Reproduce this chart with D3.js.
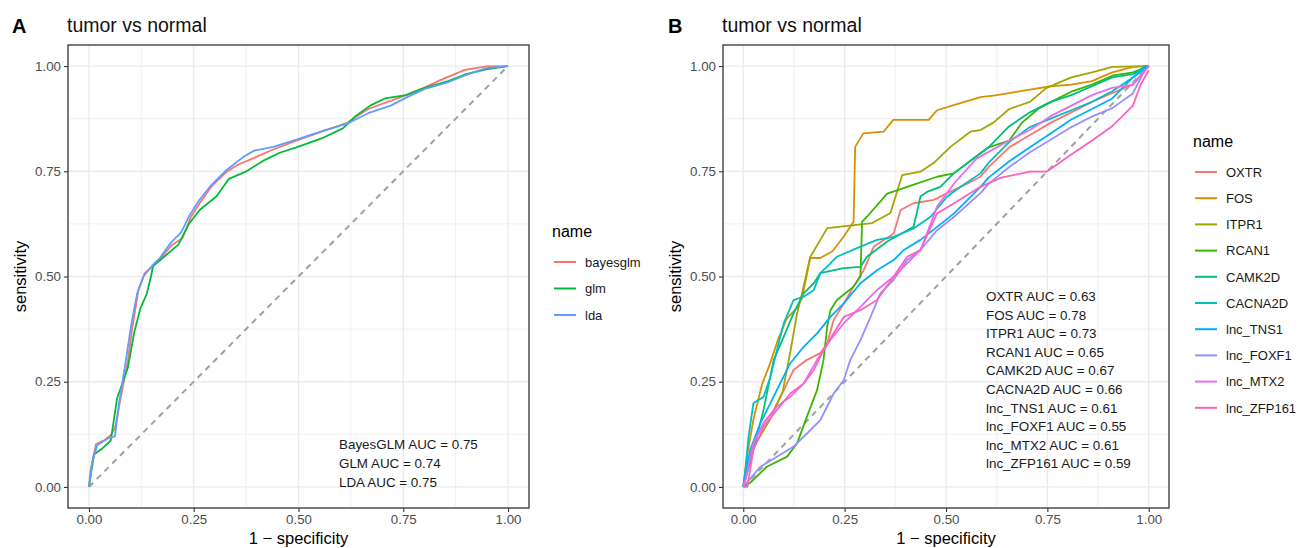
<!DOCTYPE html>
<html>
<head>
<meta charset="utf-8">
<script src="https://cdn.jsdelivr.net/npm/d3@7"></script>
<style>
  body { margin: 0; background: #fff; }
  svg text { font-family: "Liberation Sans", Arial, sans-serif; }
</style>
</head>
<body>
<div id="chart"></div>
<script>
// ---- data: [1 - specificity, sensitivity] ----
var modelNames = ["bayesglm", "glm", "lda"];
var modelColors = ["#F8766D", "#00BA38", "#619CFF"];
var modelAuc = ["BayesGLM AUC = 0.75", "GLM AUC = 0.74", "LDA AUC = 0.75"];

var bayesglmRoc = [[0,0],[0.004,0.04],[0.017,0.102],[0.035,0.11],[0.052,0.123],[0.062,0.14],[0.077,0.218],[0.093,0.30],[0.103,0.376],[0.118,0.467],[0.133,0.508],[0.153,0.525],[0.173,0.546],[0.198,0.575],[0.223,0.591],[0.243,0.641],[0.264,0.674],[0.294,0.716],[0.329,0.749],[0.354,0.765],[0.394,0.782],[0.435,0.80],[0.495,0.823],[0.555,0.844],[0.616,0.865],[0.666,0.898],[0.736,0.923],[0.797,0.947],[0.837,0.966],[0.897,0.991],[0.948,0.999],[1,1]];
var glmRoc = [[0,0],[0.012,0.077],[0.03,0.09],[0.052,0.11],[0.067,0.21],[0.093,0.284],[0.108,0.367],[0.123,0.425],[0.138,0.459],[0.148,0.50],[0.153,0.525],[0.183,0.55],[0.213,0.575],[0.238,0.624],[0.264,0.658],[0.304,0.69],[0.334,0.732],[0.374,0.749],[0.414,0.774],[0.455,0.794],[0.495,0.807],[0.555,0.828],[0.606,0.852],[0.636,0.881],[0.671,0.906],[0.706,0.923],[0.757,0.931],[0.797,0.947],[0.857,0.964],[0.897,0.98],[0.948,0.992],[1,1]];
var ldaRoc = [[0,0],[0.008,0.06],[0.02,0.10],[0.045,0.115],[0.062,0.12],[0.072,0.2],[0.088,0.30],[0.10,0.38],[0.115,0.46],[0.13,0.50],[0.15,0.525],[0.17,0.545],[0.195,0.58],[0.22,0.605],[0.24,0.645],[0.262,0.68],[0.29,0.715],[0.325,0.75],[0.35,0.77],[0.37,0.785],[0.394,0.799],[0.44,0.808],[0.495,0.825],[0.555,0.845],[0.616,0.863],[0.666,0.888],[0.72,0.906],[0.757,0.925],[0.80,0.945],[0.857,0.962],[0.897,0.978],[0.948,0.995],[1,1]];

var geneNames = ["OXTR", "FOS", "ITPR1", "RCAN1", "CAMK2D", "CACNA2D", "lnc_TNS1", "lnc_FOXF1", "lnc_MTX2", "lnc_ZFP161"];
var geneColors = ["#F8766D", "#D89000", "#A3A500", "#39B600", "#00BF7D", "#00BFC4", "#00B0F6", "#9590FF", "#E76BF3", "#FF62BC"];
var geneAuc = ["OXTR AUC = 0.63", "FOS AUC = 0.78", "ITPR1 AUC = 0.73", "RCAN1 AUC = 0.65", "CAMK2D AUC = 0.67", "CACNA2D AUC = 0.66", "lnc_TNS1 AUC = 0.61", "lnc_FOXF1 AUC = 0.55", "lnc_MTX2 AUC = 0.61", "lnc_ZFP161 AUC = 0.59"];

var oxtrRoc = [[0,0],[0.008,0.05],[0.025,0.104],[0.05,0.151],[0.075,0.183],[0.1,0.23],[0.124,0.278],[0.157,0.302],[0.19,0.318],[0.207,0.341],[0.223,0.397],[0.248,0.436],[0.272,0.476],[0.297,0.515],[0.322,0.571],[0.371,0.602],[0.388,0.658],[0.42,0.674],[0.47,0.682],[0.503,0.698],[0.553,0.721],[0.585,0.737],[0.605,0.76],[0.656,0.807],[0.707,0.836],[0.758,0.865],[0.809,0.89],[0.86,0.915],[0.91,0.936],[0.961,0.956],[1,1]];
var fosRoc = [[0,0],[0.01,0.077],[0.025,0.16],[0.046,0.243],[0.066,0.293],[0.086,0.351],[0.107,0.40],[0.132,0.425],[0.145,0.449],[0.165,0.544],[0.19,0.544],[0.22,0.56],[0.247,0.594],[0.272,0.63],[0.276,0.808],[0.296,0.84],[0.346,0.844],[0.37,0.872],[0.457,0.872],[0.478,0.895],[0.519,0.907],[0.585,0.926],[0.626,0.931],[0.707,0.944],[0.758,0.952],[0.809,0.956],[0.86,0.964],[0.91,0.985],[0.961,0.998],[1,1]];
var itpr1Roc = [[0,0],[0.025,0.094],[0.066,0.16],[0.097,0.226],[0.117,0.326],[0.132,0.409],[0.145,0.46],[0.165,0.546],[0.207,0.615],[0.318,0.627],[0.363,0.651],[0.392,0.741],[0.437,0.749],[0.47,0.77],[0.511,0.808],[0.56,0.844],[0.585,0.848],[0.616,0.865],[0.656,0.898],[0.707,0.915],[0.748,0.948],[0.809,0.973],[0.86,0.985],[0.91,0.998],[1,1]];
var rcan1Roc = [[0,0],[0.017,0.01],[0.058,0.048],[0.108,0.072],[0.133,0.104],[0.157,0.167],[0.182,0.23],[0.198,0.302],[0.207,0.381],[0.215,0.42],[0.231,0.444],[0.272,0.476],[0.289,0.50],[0.293,0.63],[0.305,0.642],[0.355,0.697],[0.404,0.713],[0.478,0.737],[0.519,0.745],[0.585,0.793],[0.605,0.807],[0.656,0.823],[0.687,0.865],[0.727,0.898],[0.768,0.919],[0.809,0.939],[0.86,0.956],[0.91,0.977],[0.961,0.985],[1,1]];
var camk2dRoc = [[0,0],[0.005,0.017],[0.025,0.088],[0.05,0.183],[0.075,0.302],[0.1,0.357],[0.124,0.413],[0.149,0.46],[0.174,0.484],[0.19,0.508],[0.247,0.52],[0.289,0.523],[0.305,0.547],[0.355,0.583],[0.42,0.618],[0.437,0.69],[0.453,0.701],[0.486,0.713],[0.519,0.745],[0.585,0.793],[0.605,0.807],[0.656,0.857],[0.707,0.89],[0.758,0.915],[0.809,0.931],[0.86,0.952],[0.91,0.973],[0.961,0.981],[1,1]];
var cacna2dRoc = [[0,0],[0.005,0.04],[0.013,0.119],[0.025,0.199],[0.05,0.214],[0.067,0.262],[0.083,0.325],[0.1,0.389],[0.124,0.444],[0.149,0.452],[0.174,0.468],[0.19,0.508],[0.215,0.531],[0.231,0.547],[0.289,0.571],[0.33,0.587],[0.371,0.594],[0.42,0.614],[0.462,0.642],[0.503,0.69],[0.536,0.713],[0.585,0.745],[0.605,0.77],[0.656,0.82],[0.707,0.855],[0.758,0.875],[0.809,0.895],[0.86,0.915],[0.91,0.94],[0.961,0.973],[1,1]];
var tns1Roc = [[0,0],[0.004,0.023],[0.017,0.088],[0.042,0.151],[0.067,0.199],[0.091,0.246],[0.116,0.294],[0.149,0.333],[0.182,0.365],[0.215,0.404],[0.248,0.436],[0.289,0.484],[0.33,0.515],[0.371,0.539],[0.396,0.563],[0.437,0.587],[0.478,0.618],[0.52,0.65],[0.585,0.713],[0.605,0.735],[0.656,0.774],[0.707,0.807],[0.758,0.84],[0.809,0.873],[0.86,0.898],[0.91,0.923],[0.961,0.973],[0.99,1],[1,1]];
var foxf1Roc = [[0,0],[0.042,0.048],[0.083,0.072],[0.124,0.096],[0.157,0.127],[0.19,0.159],[0.223,0.222],[0.248,0.254],[0.264,0.302],[0.289,0.349],[0.314,0.404],[0.338,0.46],[0.371,0.492],[0.404,0.539],[0.437,0.563],[0.478,0.61],[0.52,0.642],[0.585,0.698],[0.605,0.72],[0.656,0.76],[0.707,0.795],[0.758,0.825],[0.809,0.855],[0.86,0.88],[0.91,0.9],[0.961,0.935],[0.99,0.99],[1,1]];
var mtx2Roc = [[0,0],[0.005,0.015],[0.025,0.104],[0.05,0.151],[0.083,0.191],[0.116,0.214],[0.149,0.246],[0.182,0.302],[0.215,0.349],[0.248,0.389],[0.289,0.428],[0.33,0.468],[0.371,0.50],[0.404,0.531],[0.437,0.563],[0.453,0.602],[0.478,0.666],[0.52,0.721],[0.575,0.78],[0.656,0.823],[0.707,0.848],[0.758,0.881],[0.809,0.906],[0.86,0.931],[0.91,0.948],[0.961,0.956],[1,1]];
var zfp161Roc = [[0,0],[0.01,0],[0.025,0.088],[0.05,0.143],[0.083,0.183],[0.116,0.222],[0.149,0.246],[0.174,0.278],[0.198,0.325],[0.223,0.365],[0.248,0.404],[0.289,0.42],[0.33,0.444],[0.371,0.50],[0.404,0.547],[0.437,0.563],[0.478,0.65],[0.52,0.674],[0.585,0.713],[0.636,0.735],[0.707,0.749],[0.748,0.749],[0.809,0.79],[0.86,0.823],[0.91,0.857],[0.961,0.906],[0.98,0.956],[1,0.99]];

var tickValues = [0, 0.25, 0.5, 0.75, 1];
var tickLabels = ["0.00", "0.25", "0.50", "0.75", "1.00"];

var svg = d3.select("#chart")
  .append("svg")
  .attr("width", 1302)
  .attr("height", 548);

function drawPanel(p) {
  var x = d3.scaleLinear().domain([-0.05, 1.05]).range([p.left, p.right]);
  var y = d3.scaleLinear().domain([-0.05, 1.05]).range([p.bottom, p.top]);
  var g = svg.append("g");

  // tag and title
  g.append("text").attr("x", p.tagX).attr("y", 33)
    .attr("font-size", 20).attr("font-weight", "bold").text(p.tag);
  g.append("text").attr("x", p.left - 1).attr("y", 32)
    .attr("font-size", 19.5).attr("fill", "#111").text("tumor vs normal");

  // grid
  var minor = [0.125, 0.375, 0.625, 0.875];
  g.selectAll(".gxm").data(minor).enter().append("line")
    .attr("x1", d => x(d)).attr("x2", d => x(d))
    .attr("y1", p.top).attr("y2", p.bottom)
    .attr("stroke", "#ebebeb").attr("stroke-width", 0.7);
  g.selectAll(".gym").data(minor).enter().append("line")
    .attr("y1", d => y(d)).attr("y2", d => y(d))
    .attr("x1", p.left).attr("x2", p.right)
    .attr("stroke", "#ebebeb").attr("stroke-width", 0.7);
  g.selectAll(".gx").data(tickValues).enter().append("line")
    .attr("x1", d => x(d)).attr("x2", d => x(d))
    .attr("y1", p.top).attr("y2", p.bottom)
    .attr("stroke", "#ebebeb").attr("stroke-width", 1.3);
  g.selectAll(".gy").data(tickValues).enter().append("line")
    .attr("y1", d => y(d)).attr("y2", d => y(d))
    .attr("x1", p.left).attr("x2", p.right)
    .attr("stroke", "#ebebeb").attr("stroke-width", 1.3);

  // diagonal
  g.append("line")
    .attr("x1", x(0)).attr("y1", y(0)).attr("x2", x(1)).attr("y2", y(1))
    .attr("stroke", "#a0a0a0").attr("stroke-width", 2)
    .attr("stroke-dasharray", "6,5");

  // curves
  var line = d3.line().x(d => x(d[0])).y(d => y(d[1]));
  p.series.forEach(function(s, i) {
    g.append("path")
      .attr("d", line(s))
      .attr("fill", "none")
      .attr("stroke", p.colors[i])
      .attr("stroke-width", 1.8)
      .attr("stroke-linejoin", "round");
  });

  // axes
  var bottomAxis = d3.axisBottom(x).tickValues(tickValues)
    .tickFormat((d, i) => tickLabels[i]).tickSize(4).tickPadding(3);
  var leftAxis = d3.axisLeft(y).tickValues(tickValues)
    .tickFormat((d, i) => tickLabels[i]).tickSize(4).tickPadding(3);
  var ax = g.append("g").attr("transform", `translate(0, ${p.bottom})`).call(bottomAxis);
  var ay = g.append("g").attr("transform", `translate(${p.left}, 0)`).call(leftAxis);
  [ax, ay].forEach(function(a) {
    a.select(".domain").remove();
    a.selectAll("line").attr("stroke", "#333333").attr("stroke-width", 1.1);
    a.selectAll("text").attr("fill", "#4d4d4d").attr("font-size", 13.3)
      .attr("font-family", "Liberation Sans, Arial, sans-serif");
  });

  // border
  g.append("rect")
    .attr("x", p.left).attr("y", p.top)
    .attr("width", p.right - p.left).attr("height", p.bottom - p.top)
    .attr("fill", "none").attr("stroke", "#333333").attr("stroke-width", 1.3);

  // axis titles
  g.append("text").attr("x", (p.left + p.right) / 2).attr("y", 544)
    .attr("text-anchor", "middle").attr("font-size", 16.5).text("1 \u2212 specificity");
  g.append("text")
    .attr("transform", `translate(${p.left - 42}, ${(p.top + p.bottom) / 2}) rotate(-90)`)
    .attr("text-anchor", "middle").attr("font-size", 16.5).text("sensitivity");

  // AUC labels
  g.selectAll(".auc").data(p.auc).enter().append("text")
    .attr("x", p.aucX).attr("y", (d, i) => p.aucY + i * p.aucStep)
    .attr("font-size", 13.4).attr("fill", "#1a1a1a").text(d => d);

  // legend
  var lg = g.append("g").attr("transform", `translate(${p.legX}, ${p.legY})`);
  lg.append("text").attr("x", 0).attr("y", 0).attr("font-size", 16).text("name");
  p.names.forEach(function(n, i) {
    var yy = 25 + i * p.legStep;
    lg.append("line").attr("x1", 2).attr("x2", 24).attr("y1", yy).attr("y2", yy)
      .attr("stroke", p.colors[i]).attr("stroke-width", 2);
    lg.append("text").attr("x", 33).attr("y", yy + 4.7)
      .attr("font-size", 13).attr("fill", "#1a1a1a").text(n);
  });
}

drawPanel({
  tag: "A", tagX: 12,
  left: 68, right: 529, top: 45, bottom: 508,
  series: [bayesglmRoc, glmRoc, ldaRoc],
  colors: modelColors, names: modelNames, auc: modelAuc,
  aucX: 339, aucY: 449, aucStep: 19,
  legX: 552, legY: 237, legStep: 26.5
});

drawPanel({
  tag: "B", tagX: 668,
  left: 723, right: 1169, top: 45, bottom: 508,
  series: [oxtrRoc, fosRoc, itpr1Roc, rcan1Roc, camk2dRoc, cacna2dRoc, tns1Roc, foxf1Roc, mtx2Roc, zfp161Roc],
  colors: geneColors, names: geneNames, auc: geneAuc,
  aucX: 986, aucY: 301, aucStep: 18.6,
  legX: 1193, legY: 147, legStep: 26.2
});
</script>
</body>
</html>
